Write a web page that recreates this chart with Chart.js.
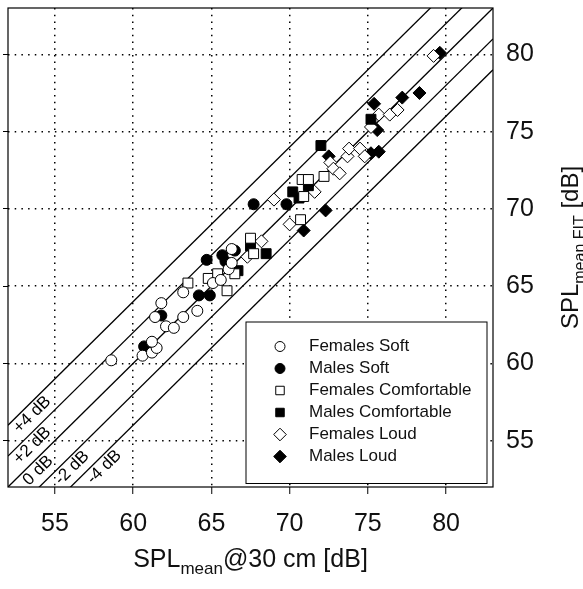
<!DOCTYPE html>
<html>
<head>
<meta charset="utf-8">
<script src="https://cdn.jsdelivr.net/npm/chart.js@4.4.1/dist/chart.umd.min.js"></script>
<style>
  html, body { margin: 0; padding: 0; background: #fff; }
</style>
</head>
<body>
<canvas id="c" width="583" height="589"></canvas>
<script>
// ── DATA ──────────────────────────────────────────────
const tickValues = [55, 60, 65, 70, 75, 80];
const axisMin = 52, axisMax = 83;
const refOffsets = [4, 2, 0, -2, -4];
const refLabels  = ['+4 dB', '+2 dB', '0 dB', '-2 dB', '-4 dB'];

const femalesSoftX = [58.6, 60.6, 61.2, 61.5, 61.2, 61.4, 61.8, 62.1, 62.6, 63.2, 64.1, 63.2, 65.1, 65.6, 66.1, 66.3, 66.3];
const femalesSoftY = [60.2, 60.5, 60.7, 61.0, 61.4, 63.0, 63.9, 62.4, 62.3, 63.0, 63.4, 64.6, 65.2, 65.4, 66.1, 66.5, 67.4];

const malesSoftX = [60.7, 61.8, 64.2, 64.9, 64.7, 65.7, 65.9, 66.5, 67.7, 69.8];
const malesSoftY = [61.1, 63.1, 64.4, 64.4, 66.7, 67.0, 66.6, 67.3, 70.3, 70.3];

const femalesComfX = [63.5, 64.8, 65.4, 66.0, 66.5, 67.5, 67.7, 70.7, 70.8, 71.2, 72.2, 70.9];
const femalesComfY = [65.2, 65.5, 65.8, 64.7, 65.8, 68.1, 67.1, 69.3, 71.9, 71.9, 72.1, 70.8];

const malesComfX = [66.7, 67.5, 68.5, 70.2, 70.6, 71.2, 72.0, 75.2];
const malesComfY = [66.0, 67.6, 67.1, 71.1, 70.7, 71.5, 74.1, 75.8];

const femalesLoudX = [67.3, 68.2, 70.0, 69.0, 71.6, 72.6, 72.8, 73.2, 73.7, 73.8, 74.5, 74.8, 75.2, 75.7, 76.4, 76.9, 79.2];
const femalesLoudY = [66.9, 67.9, 69.0, 70.6, 71.1, 73.0, 72.6, 72.3, 73.4, 73.9, 73.9, 73.4, 75.3, 76.1, 76.1, 76.4, 79.9];

const malesLoudX = [70.9, 72.3, 72.5, 75.2, 75.7, 75.6, 75.4, 77.2, 78.3, 79.6];
const malesLoudY = [68.6, 69.9, 73.4, 73.6, 73.7, 75.1, 76.8, 77.2, 77.5, 80.1];

// ── HELPERS ───────────────────────────────────────────
const FONT = '"Liberation Sans", Arial, Helvetica, sans-serif';
const pts = (xs, ys) => xs.map((x, i) => ({ x, y: ys[i] }));

function markerSet(label, xs, ys, style, filled, r) {
  return {
    label, data: pts(xs, ys), pointStyle: style, pointRadius: r, pointHoverRadius: r,
    backgroundColor: filled ? '#000' : '#fff', borderColor: '#000', borderWidth: 1, order: 1,
  };
}

function drawMarker(ctx, style, r, x, y, fill) {
  ctx.save();
  ctx.fillStyle = fill; ctx.strokeStyle = '#000'; ctx.lineWidth = 1;
  ctx.beginPath();
  if (style === 'circle') ctx.arc(x, y, r, 0, Math.PI * 2);
  else if (style === 'rect') { const h = r * Math.SQRT1_2; ctx.rect(x - h, y - h, 2 * h, 2 * h); }
  else { ctx.moveTo(x - r, y); ctx.lineTo(x, y - r); ctx.lineTo(x + r, y); ctx.lineTo(x, y + r); ctx.closePath(); }
  ctx.fill(); ctx.stroke();
  ctx.restore();
}

// parts: [text, fontSize, baselineShift]
function drawParts(ctx, parts, cx, y) {
  let w = 0;
  parts.forEach(p => { ctx.font = `${p[1]}px ${FONT}`; w += ctx.measureText(p[0]).width; });
  let x = cx - w / 2;
  parts.forEach(p => {
    ctx.font = `${p[1]}px ${FONT}`;
    ctx.fillText(p[0], x, y + p[2]);
    x += ctx.measureText(p[0]).width;
  });
}

// ── PLUGIN: frame, diagonal labels, legend, axis titles ──
const decor = {
  id: 'decor',
  afterDatasetsDraw(chart) {
    const { ctx, scales: { x, y } } = chart;
    const starts = [52.1, 52.1, 52.7, 54.75, 56.8];
    ctx.save();
    ctx.fillStyle = '#000';
    ctx.font = `17px ${FONT}`;
    ctx.textAlign = 'left';
    ctx.textBaseline = 'top';
    refOffsets.forEach((c, i) => {
      const px = x.getPixelForValue(starts[i]), py = y.getPixelForValue(starts[i] + c);
      const ang = Math.atan2(y.getPixelForValue(starts[i] + c + 1) - py, x.getPixelForValue(starts[i] + 1) - px);
      ctx.save();
      ctx.translate(px, py);
      ctx.rotate(ang);
      ctx.fillText(refLabels[i], 0, 1);
      ctx.restore();
    });
    ctx.restore();
  },
  afterDraw(chart) {
    const { ctx, chartArea: a } = chart;
    ctx.save();
    // frame
    ctx.strokeStyle = '#000'; ctx.lineWidth = 1.2;
    ctx.strokeRect(a.left, a.top, a.right - a.left, a.bottom - a.top);

    // legend box
    const bx = a.right - 247, by = a.bottom - 165, bw = 241, bh = 161.5;
    ctx.fillStyle = '#fff';
    ctx.fillRect(bx, by, bw, bh);
    ctx.lineWidth = 1;
    ctx.strokeRect(bx, by, bw, bh);
    ctx.font = `17px ${FONT}`;
    ctx.textAlign = 'left'; ctx.textBaseline = 'middle';
    chart.data.datasets.filter(d => d.label).forEach((d, i) => {
      const ly = by + 24.5 + i * 22;
      drawMarker(ctx, d.pointStyle, d.pointStyle === 'circle' ? 5 : (d.pointStyle === 'rect' ? 6 : 6.3), bx + 34, ly, d.backgroundColor);
      ctx.fillStyle = '#111';
      ctx.fillText(d.label, bx + 63, ly);
    });

    // axis titles
    ctx.fillStyle = '#111';
    ctx.textAlign = 'left'; ctx.textBaseline = 'alphabetic';
    drawParts(ctx, [['SPL', 25, 0], ['mean', 17, 7], ['@30 cm [dB]', 25, 0]], (a.left + a.right) / 2, 567);
    ctx.save();
    ctx.translate(578, (a.top + a.bottom) / 2);
    ctx.rotate(-Math.PI / 2);
    drawParts(ctx, [['SPL', 24, 0], ['mean FIT', 16, 7], [' [dB]', 24, 0]], 0, 0);
    ctx.restore();
    ctx.restore();
  }
};

// ── DATASETS ──────────────────────────────────────────
const refSets = refOffsets.map(c => ({
  data: [{ x: axisMin, y: axisMin + c }, { x: axisMax, y: axisMax + c }],
  showLine: true, borderColor: '#000', borderWidth: 1.3, pointRadius: 0, pointHoverRadius: 0, order: 10,
}));

const datasets = [
  markerSet('Females Soft', femalesSoftX, femalesSoftY, 'circle', false, 5.5),
  markerSet('Males Soft', malesSoftX, malesSoftY, 'circle', true, 5.5),
  markerSet('Females Comfortable', femalesComfX, femalesComfY, 'rect', false, 7),
  markerSet('Males Comfortable', malesComfX, malesComfY, 'rect', true, 7),
  markerSet('Females Loud', femalesLoudX, femalesLoudY, 'rectRot', false, 6.5),
  markerSet('Males Loud', malesLoudX, malesLoudY, 'rectRot', true, 6.5),
  ...refSets,
];

const setTicks = s => { s.ticks = tickValues.map(v => ({ value: v })); };
// fixed axis sizes; drop the label overhang padding Chart.js adds
const fixSize = (w, h) => s => {
  if (w != null) s.width = w;
  if (h != null) s.height = h;
  s.paddingTop = s.paddingBottom = s.paddingLeft = s.paddingRight = 0;
};
const dotted = { color: '#000', lineWidth: 1.5 };

new Chart(document.getElementById('c'), {
  type: 'scatter',
  data: { datasets },
  plugins: [decor],
  options: {
    responsive: false, animation: false, devicePixelRatio: 1,
    layout: { padding: { top: 3, left: 0, right: 0, bottom: 0 } },
    plugins: { legend: { display: false }, tooltip: { enabled: false } },
    scales: {
      x: {
        type: 'linear', position: 'bottom', min: axisMin, max: axisMax,
        afterBuildTicks: setTicks,
        afterFit: fixSize(null, 102),
        grid: { ...dotted, drawTicks: true, tickLength: 7, tickColor: '#000', tickWidth: 1, tickBorderDash: [] },
        border: { display: false, dash: [1.5, 5.2] },
        ticks: { color: '#111', font: { family: FONT, size: 25 }, padding: 15 },
      },
      y: {
        type: 'linear', position: 'right', min: axisMin, max: axisMax,
        afterBuildTicks: setTicks,
        afterFit: fixSize(90, null),
        grid: { ...dotted, drawTicks: false },
        border: { display: false, dash: [1.5, 5.2] },
        ticks: { color: '#111', font: { family: FONT, size: 25 }, padding: 13 },
      },
      y2: {
        type: 'linear', position: 'left', min: axisMin, max: axisMax,
        afterBuildTicks: setTicks,
        afterFit: fixSize(8, null),
        grid: { drawOnChartArea: false, drawTicks: true, tickLength: 5, tickColor: '#000', tickWidth: 1, tickBorderDash: [] },
        border: { display: false },
        ticks: { display: false },
      },
    },
  },
});
</script>
</body>
</html>
